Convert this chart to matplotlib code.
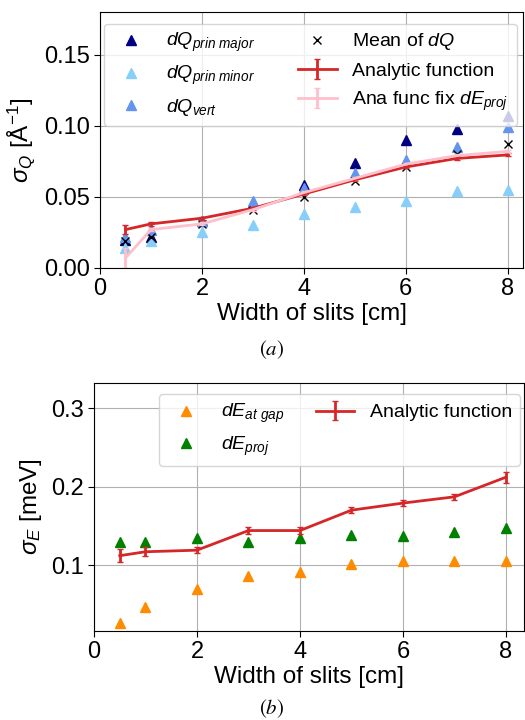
import matplotlib
matplotlib.use("Agg")
import matplotlib.pyplot as plt
import numpy as np

plt.rcParams['font.family'] = ['Liberation Sans', 'DejaVu Sans']
plt.rcParams['mathtext.fontset'] = 'custom'
plt.rcParams['mathtext.rm'] = 'Liberation Sans'
plt.rcParams['mathtext.it'] = 'Liberation Sans:italic'
plt.rcParams['mathtext.bf'] = 'Liberation Sans:bold'

# slit widths
width = [0.5, 1, 2, 3, 4, 5, 6, 7, 8]

# panel (a): sigma_Q
dq_major = [0.020, 0.022, 0.033, 0.046, 0.058, 0.074, 0.090, 0.098, 0.107]
dq_minor = [0.014, 0.019, 0.025, 0.030, 0.038, 0.043, 0.047, 0.054, 0.055]
dq_vert = [0.022, 0.027, 0.033, 0.047, 0.056, 0.067, 0.076, 0.085, 0.099]
dq_mean = [0.019, 0.022, 0.031, 0.041, 0.050, 0.061, 0.071, 0.080, 0.087]
ana_q = [0.027, 0.031, 0.035, 0.042, 0.052, 0.062, 0.071, 0.077, 0.0795]
ana_q_err = [0.003, 0.0015, 0.001, 0.001, 0.001, 0.001, 0.001, 0.001, 0.001]
ana_fix_q = [0.007, 0.027, 0.031, 0.041, 0.053, 0.063, 0.073, 0.079, 0.082]
ana_fix_q_err = [0.007, 0.001, 0.001, 0.001, 0.001, 0.001, 0.001, 0.001, 0.001]

# panel (b): sigma_E
de_gap = [0.026, 0.047, 0.069, 0.086, 0.091, 0.101, 0.105, 0.105, 0.105]
de_proj = [0.129, 0.129, 0.135, 0.129, 0.134, 0.138, 0.137, 0.142, 0.147]
ana_e = [0.112, 0.117, 0.119, 0.144, 0.144, 0.170, 0.179, 0.187, 0.212]
ana_e_err = [0.008, 0.006, 0.004, 0.004, 0.004, 0.004, 0.004, 0.004, 0.007]

fig = plt.figure(figsize=(5.25, 7.2), dpi=100)
ax1 = fig.add_axes([0.1905, 0.6278, 0.8057, 0.3556])
ax2 = fig.add_axes([0.179, 0.1236, 0.819, 0.3444])

ms = 7
ax1.plot(width, dq_major, '^', color='navy', ms=ms, label=r'$dQ_{prin\ major}$')
ax1.plot(width, dq_minor, '^', color='lightskyblue', ms=ms, label=r'$dQ_{prin\ minor}$')
ax1.plot(width, dq_vert, '^', color='cornflowerblue', ms=ms, label=r'$dQ_{vert}$')
ax1.plot(width, dq_mean, 'x', color='black', ms=5.5, label=r'Mean of $dQ$')
ax1.errorbar(width, ana_q, yerr=ana_q_err, color='tab:red', lw=2, capsize=2,
             label='Analytic function')
ax1.errorbar(width, ana_fix_q, yerr=ana_fix_q_err, color='pink', lw=2, capsize=2,
             label=r'Ana func fix $dE_{proj}$')
ax1.set_xlim(0, 8.3)
ax1.set_ylim(0, 0.18)
ax1.set_yticks([0, 0.05, 0.10, 0.15])
ax1.set_yticklabels(['0.00', '0.05', '0.10', '0.15'])
ax1.set_xticks([0, 2, 4, 6, 8])
ax1.set_xlabel('Width of slits [cm]', fontsize=17.5, labelpad=2)
ax1.set_ylabel(r'$\sigma_Q$ [Å$^{-1}$]', fontsize=17.5, labelpad=5)
ax1.legend(ncol=2, fontsize=14, loc='upper left', bbox_to_anchor=(0.0, 0.97),
           borderaxespad=0.2, handletextpad=0.8, columnspacing=2.2)

ax2.plot(width, de_gap, '^', color='darkorange', ms=ms, label=r'$dE_{at\ gap}$')
ax2.plot(width, de_proj, '^', color='green', ms=ms, label=r'$dE_{proj}$')
ax2.errorbar(width, ana_e, yerr=ana_e_err, color='tab:red', lw=2, capsize=2,
             label='Analytic function')
ax2.set_xlim(0, 8.35)
ax2.set_ylim(0.016, 0.332)
ax2.set_yticks([0.1, 0.2, 0.3])
ax2.set_xticks([0, 2, 4, 6, 8])
ax2.set_xlabel('Width of slits [cm]', fontsize=17.5, labelpad=2)
ax2.set_ylabel(r'$\sigma_E$ [meV]', fontsize=17.5, labelpad=5)
ax2.legend(ncol=2, fontsize=14, loc='upper right', bbox_to_anchor=(1.0, 0.97),
           borderaxespad=0.2, handletextpad=0.8, columnspacing=1.6)

for ax in (ax1, ax2):
    ax.grid(True, color='#b0b0b0', lw=0.8)
    ax.set_axisbelow(True)
    ax.tick_params(labelsize=17, length=4)

fig.text(0.518, 0.514, r'$(a)$', math_fontfamily='stix', fontsize=15, ha='center', va='center')
fig.text(0.518, 0.016, r'$(b)$', math_fontfamily='stix', fontsize=15, ha='center', va='center')

fig.savefig('out.png', dpi=100)
